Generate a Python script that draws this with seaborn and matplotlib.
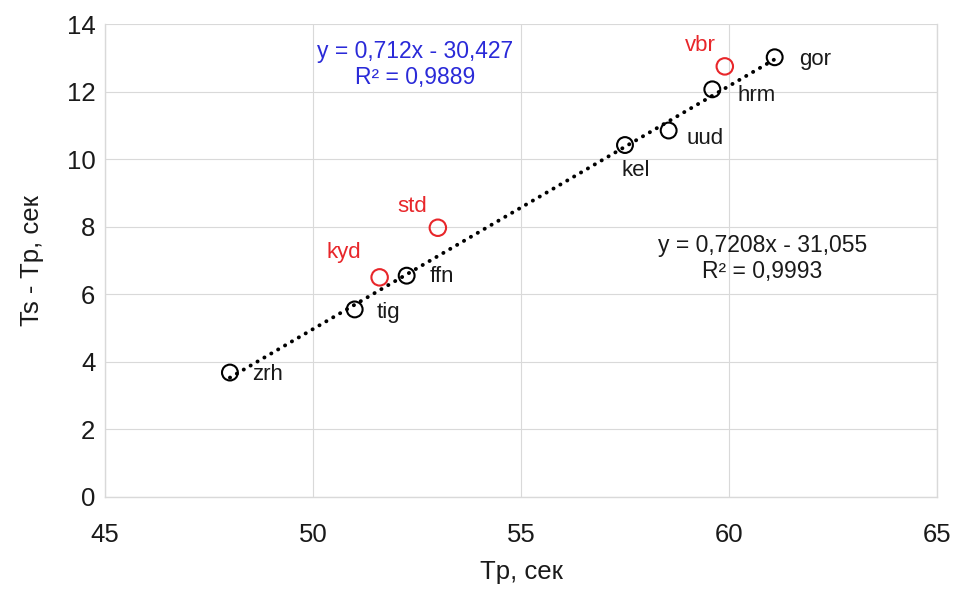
import numpy as np
import pandas as pd
import seaborn as sns
import matplotlib.pyplot as plt

# точки на линии тренда (черные)
names_main = ["zrh", "tig", "ffn", "kel", "uud", "hrm", "gor"]
tp_main = [48.0, 51.0, 52.25, 57.5, 58.55, 59.6, 61.1]
ts_tp_main = [3.68, 5.55, 6.55, 10.42, 10.85, 12.07, 13.02]

# выбросы (красные)
names_red = ["kyd", "std", "vbr"]
tp_red = [51.6, 53.0, 59.9]
ts_tp_red = [6.5, 7.97, 12.75]

eq_main = "y = 0,7208x - 31,055\nR² = 0,9993"
eq_all = "y = 0,712x - 30,427\nR² = 0,9889"

df_main = pd.DataFrame({"Tp": tp_main, "dT": ts_tp_main, "name": names_main})
df_red = pd.DataFrame({"Tp": tp_red, "dT": ts_tp_red, "name": names_red})

sns.set_style("whitegrid", {"grid.color": "#d9d9d9", "axes.edgecolor": "#d9d9d9"})
plt.rcParams["font.family"] = ["Liberation Sans", "DejaVu Sans"]

fig = plt.figure(figsize=(9.56, 5.9), dpi=100)
ax = fig.add_axes([0.11, 0.158, 0.87, 0.801])

sns.regplot(data=df_main, x="Tp", y="dT", scatter=False, ci=None, ax=ax,
            line_kws={"color": "black", "linestyle": (0, (0.05, 2.0)), "linewidth": 2.8,
                      "dash_capstyle": "round"})

sns.scatterplot(data=df_main, x="Tp", y="dT", ax=ax, s=130, marker="o",
                facecolor="none", edgecolor="black", linewidth=1.5, zorder=3)
sns.scatterplot(data=df_red, x="Tp", y="dT", ax=ax, s=140, marker="o",
                facecolor="none", edgecolor="#e8262a", linewidth=1.5, zorder=3)

offsets_main = {
    "zrh": (22, -2, "left"), "tig": (22, -3, "left"), "ffn": (23, -1, "left"),
    "kel": (11, -25, "center"), "uud": (18, -8, "left"), "hrm": (25, -6, "left"),
    "gor": (24, -2, "left"),
}
for _, r in df_main.iterrows():
    dx, dy, ha = offsets_main[r["name"]]
    ax.annotate(r["name"], (r["Tp"], r["dT"]), xytext=(dx, dy), textcoords="offset pixels",
                ha=ha, va="center", fontsize=16, color="#1a1a1a")

offsets_red = {"kyd": (-36, 25), "std": (-26, 21), "vbr": (-24, 21)}
for _, r in df_red.iterrows():
    dx, dy = offsets_red[r["name"]]
    ax.annotate(r["name"], (r["Tp"], r["dT"]), xytext=(dx, dy), textcoords="offset pixels",
                ha="center", va="center", fontsize=16, color="#e8262a")

ax.text(52.45, 12.8, eq_all, ha="center", va="center", fontsize=16.5, color="#2a2ad8",
        linespacing=1.15)
ax.text(60.8, 7.05, eq_main, ha="center", va="center", fontsize=16.5, color="#1a1a1a",
        linespacing=1.15)

ax.set_xlim(45, 65)
ax.set_ylim(0, 14)
ax.set_xticks(np.arange(45, 66, 5))
ax.set_yticks(np.arange(0, 15, 2))
ax.tick_params(axis="both", labelsize=18.5, length=0, colors="#1a1a1a")
ax.tick_params(axis="x", pad=19)
ax.tick_params(axis="y", pad=7)
ax.set_xlabel("Tp, сек", fontsize=18.5, color="#1a1a1a", labelpad=9)
ax.set_ylabel("Ts - Tp, сек", fontsize=18.5, color="#1a1a1a", labelpad=16)
for s in ax.spines.values():
    s.set_color("#d9d9d9")
    s.set_linewidth(1)
ax.spines["top"].set_visible(False)

plt.savefig("out.png", dpi=100)
